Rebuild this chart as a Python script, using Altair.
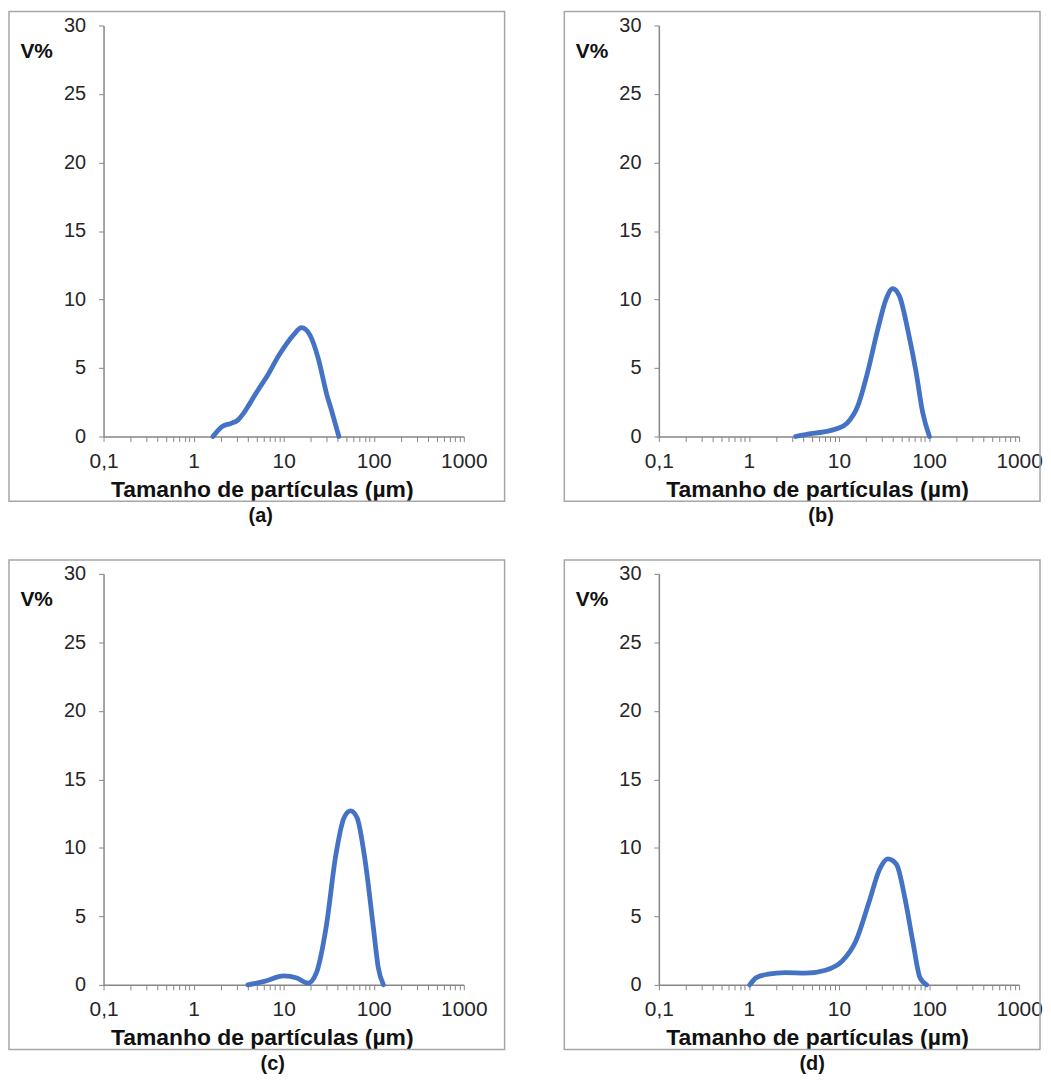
import altair as alt
import pandas as pd

# ---- data (particle size in µm, volume %) ----
size_a = [1.64, 2.1, 2.6, 3.1, 3.6, 4.2, 5.2, 6.4, 9.0, 12.8, 15.8, 19.6, 24.2, 30.0, 34.0, 41.0]
vol_a = [0, 0.75, 0.95, 1.2, 1.7, 2.4, 3.4, 4.3, 6.0, 7.4, 7.95, 7.4, 5.7, 3.1, 1.9, 0]

size_b = [3.3, 4.5, 6.8, 9.6, 12.4, 16.1, 20.8, 26.9, 33.2, 39.5, 46.9, 58.0, 71.8, 85.0, 101.0]
vol_b = [0, 0.17, 0.34, 0.58, 1.0, 2.2, 4.7, 7.8, 10.0, 10.8, 10.25, 7.8, 4.7, 1.75, 0]

size_c = [4.0, 6.1, 10.0, 14.0, 18.7, 23.0, 29.6, 38.0, 46.8, 55.3, 65.3, 80.5, 99.0, 112.0, 128.0]
vol_c = [0, 0.25, 0.65, 0.5, 0.12, 0.85, 4.2, 9.5, 12.2, 12.7, 12.2, 9.0, 4.2, 1.3, 0]

size_d = [1.02, 1.21, 1.63, 2.52, 4.22, 7.1, 10.9, 15.4, 21.7, 28.1, 34.9, 43.4, 53.7, 66.7, 79.2, 94.0]
vol_d = [0, 0.53, 0.78, 0.9, 0.85, 1.07, 1.75, 3.2, 6.1, 8.4, 9.2, 8.8, 6.4, 3.0, 0.53, 0]

captions = ["(a)", "(b)", "(c)", "(d)"]
x_decades = [0.1, 1, 10, 100, 1000]
x_tick_labels = ["0,1", "1", "10", "100", "1000"]
y_ticks = [0, 5, 10, 15, 20, 25, 30]
x_title = "Tamanho de partículas (µm)"
y_title = "V%"

# ---- styling / layout ----
FONT = "Liberation Sans"
W, H = 362, 413
LINE_COLOR = "#4472C4"
AXIS_COLOR = "#868686"
BOX_COLOR = "#A6A6A6"
TEXT_COLOR = "#262626"

x_ticks = []
for d in x_decades[:-1]:
    for m in range(1, 10):
        x_ticks.append(round(d * m, 6))
x_ticks.append(x_decades[-1])

label_expr = ""
for v, lab in zip(x_decades, x_tick_labels):
    label_expr += f"datum.value == {v} ? '{lab}' : "
label_expr += "''"


def panel(xs, ys, cap, cap_dx, right_pad):
    df = pd.DataFrame({"size": xs, "vol": ys})
    line = alt.Chart(df).mark_line(
        color=LINE_COLOR, strokeWidth=4.8, interpolate="monotone", strokeCap="round", strokeJoin="round"
    ).encode(
        x=alt.X(
            "size:Q",
            scale=alt.Scale(type="log", domain=[0.1, 1000], nice=False),
            axis=alt.Axis(
                values=x_ticks,
                labelExpr=label_expr,
                title=x_title,
                titleX=W / 2 - 22,
                titleFont=FONT,
                titleFontSize=23,
                titleFontWeight="bold",
                titleColor="#111111",
                titlePadding=7,
                labelFont=FONT,
                labelFontSize=21,
                labelColor=TEXT_COLOR,
                labelPadding=9,
                labelOverlap=False,
                labelFlush=False,
                tickSize=5,
                tickColor=AXIS_COLOR,
                domainColor=AXIS_COLOR,
                domainWidth=1.5,
                grid=False,
            ),
        ),
        y=alt.Y(
            "vol:Q",
            scale=alt.Scale(domain=[0, 30], nice=False),
            axis=alt.Axis(
                values=y_ticks,
                title=y_title,
                titleAngle=0,
                titleAlign="left",
                titleBaseline="middle",
                titleX=-84,
                titleY=26,
                titleFont=FONT,
                titleFontSize=21,
                titleFontWeight="bold",
                titleColor="#111111",
                labelFont=FONT,
                labelFontSize=20,
                labelColor=TEXT_COLOR,
                labelPadding=13,
                tickSize=5,
                tickColor=AXIS_COLOR,
                domainColor=AXIS_COLOR,
                domainWidth=1.5,
                grid=False,
            ),
        ),
    )
    one = pd.DataFrame({"cap": [cap]})
    box = alt.Chart(one).mark_rect(
        fillOpacity=0, stroke=BOX_COLOR, strokeWidth=1.5
    ).encode(
        x=alt.value(-95), x2=alt.value(W + right_pad),
        y=alt.value(-14), y2=alt.value(H + 65),
    )
    caption = alt.Chart(one).mark_text(
        font=FONT, fontSize=20, fontWeight="bold", color="#111111",
        align="center", baseline="middle",
    ).encode(
        text="cap:N", x=alt.value(cap_dx), y=alt.value(H + 80),
    )
    return alt.layer(box, line, caption).properties(width=W, height=H)


pa = panel(size_a, vol_a, captions[0], 158, 41)
pb = panel(size_b, vol_b, captions[1], 163, 21)
pc = panel(size_c, vol_c, captions[2], 170, 41)
pd_ = panel(size_d, vol_d, captions[3], 154, 21)

chart = alt.concat(
    pa, pb, pc, pd_, columns=2, spacing={"row": 138, "column": 196}, bounds="flush"
).properties(
    padding={"left": 0, "top": 0, "right": 0, "bottom": 0}
).configure_view(strokeWidth=0)

chart.save("out.html", embed_options={"renderer": "svg", "actions": False})
